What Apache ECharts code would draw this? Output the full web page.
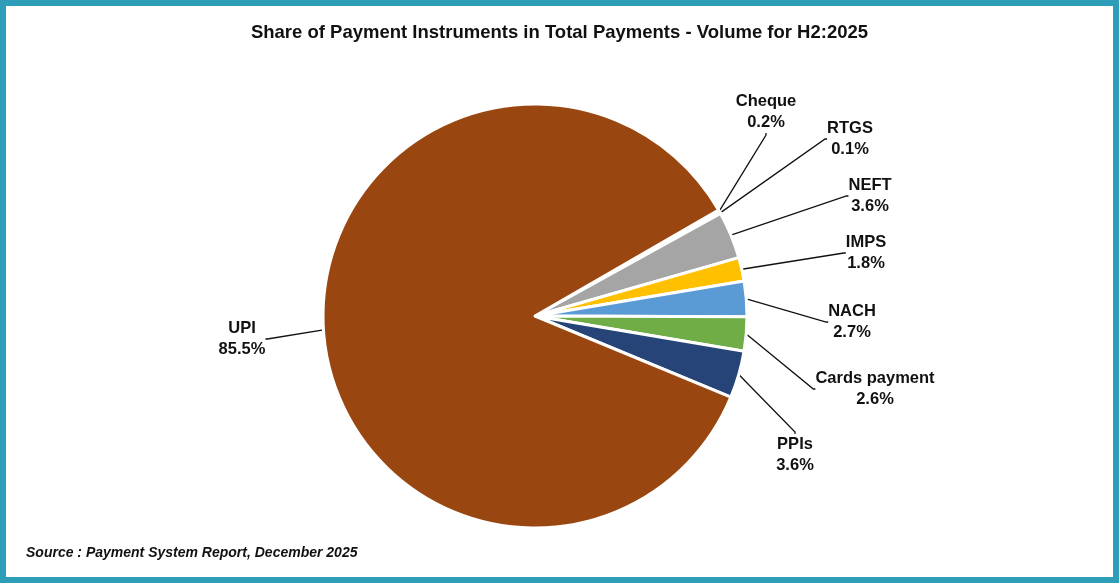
<!DOCTYPE html><html><head><meta charset="utf-8">
<script src="https://cdn.jsdelivr.net/npm/echarts@6/dist/echarts.min.js"></script>
<style>html,body{margin:0;padding:0;background:#fff}#c{width:1107px;height:571px;border:6px solid #2E9DB8}</style>
</head><body><div id="c"></div><script>
const categories=["Cheque","RTGS","NEFT","IMPS","NACH","Cards payment","PPIs","UPI"];
const values=[0.2,0.1,3.6,1.8,2.7,2.6,3.6,85.5];
const colors=["#A5A5A5","#8C8C8C","#A5A5A5","#FFC000","#5B9BD5","#70AD47","#264478","#9A4610"];
const labelPos=[[766,112],[850,139],[870,196],[866,253],[852,322],[875,389],[795,455],[242,339]];
const chart=echarts.init(document.getElementById('c'));
chart.setOption({
 title:{text:"Share of Payment Instruments in Total Payments - Volume for H2:2025",left:'center',top:12,textStyle:{fontFamily:'Liberation Sans',fontSize:18.5,fontWeight:'bold',color:'#111'}},
 graphic:[{type:'text',left:20,top:540,style:{text:'Source : Payment System Report, December 2025',font:'italic bold 14px "Liberation Sans"',fill:'#111'}}],
 series:[{type:'pie',center:[529,310],radius:212,startAngle:30,clockwise:true,
  data:categories.map((n,i)=>({name:n,value:values[i],itemStyle:{color:colors[i]}})),
  itemStyle:{borderColor:'#fff',borderWidth:3},
  label:{formatter:p=>p.name+'\n'+p.value+'%',fontFamily:'Liberation Sans',fontSize:16.5,fontWeight:'bold',color:'#111',lineHeight:21,align:'center'},
  labelLine:{show:true,lineStyle:{color:'#111',width:1.3},length:10,length2:2},
  labelLayout:p=>{const q=labelPos[p.dataIndex];return {x:q[0]-6,y:q[1]-6,align:'center',verticalAlign:'middle'};}
 }]
});
</script></body></html>
